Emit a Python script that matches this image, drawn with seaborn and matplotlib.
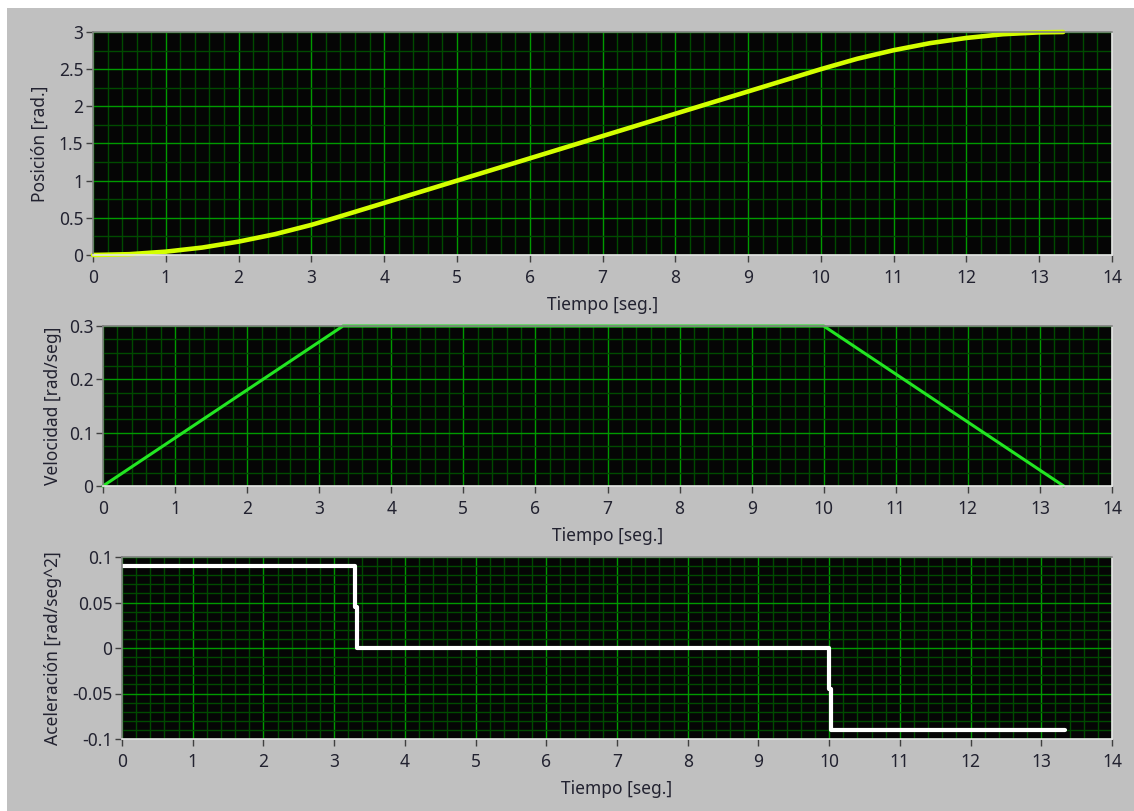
import matplotlib
matplotlib.use("Agg")
import matplotlib.pyplot as plt
from matplotlib.patches import Rectangle
from matplotlib.ticker import MultipleLocator
import seaborn as sns
import pandas as pd

# Position profile
pos_t = [0, 0.5, 1, 1.5, 2, 2.5, 3, 3.33, 4, 5, 6, 7, 8, 9, 10,
         10.5, 11, 11.5, 12, 12.5, 13, 13.33]
pos_val = [0, 0.011, 0.045, 0.10, 0.18, 0.28, 0.405, 0.50, 0.70, 1.00, 1.30,
           1.60, 1.90, 2.20, 2.50, 2.64, 2.755, 2.85, 2.92, 2.97, 2.995, 3.0]

# Velocity (trapezoid corners)
vel_t = [0, 3.33, 10.0, 13.33]
vel_val = [0, 0.3, 0.3, 0]

# Acceleration (step values, held until next time)
acc_t = [0, 3.3, 3.33, 10.0, 10.03, 13.33]
acc_val = [0.09, 0.045, 0, -0.045, -0.09, -0.09]

ylabels = ["Posición [rad.]", "Velocidad [rad/seg]", "Aceleración [rad/seg^2]"]
xlabel = "Tiempo [seg.]"

W, H = 1134, 811
BG = "#c0c0c0"
TXT = "#222230"
FS = 12.5

sns.set_style("dark")
plt.rcParams["font.family"] = ["Noto Sans", "DejaVu Sans"]

fig = plt.figure(figsize=(W / 100, H / 100), dpi=100, facecolor="white")
fig.patches.append(Rectangle((7 / W, 0), 1, 1 - 8 / H, transform=fig.transFigure,
                             facecolor=BG, edgecolor="none", zorder=-10))

# panel boxes in pixels (left, top, right, bottom), y limits, y major/minor step,
# right edge of the y label in pixels
panels = [
    ((93, 32, 1112, 255), (0, 3), 0.5, 0.25, 49),
    ((103, 326, 1112, 486), (0, 0.3), 0.1, 0.025, 62),
    ((122, 557, 1112, 739), (-0.1, 0.1), 0.05, 0.01, 62),
]

axes = []
for box, ylim, ymaj, ymin, lab_x in panels:
    left, top, right, bottom = box
    ax = fig.add_axes([left / W, 1 - bottom / H, (right - left) / W, (bottom - top) / H])
    ax.set_facecolor("#050505")
    axes.append(ax)

pos_df = pd.DataFrame({"t": pos_t, "p": pos_val})
vel_df = pd.DataFrame({"t": vel_t, "v": vel_val})
acc_df = pd.DataFrame({"t": acc_t, "a": acc_val})

sns.lineplot(data=pos_df, x="t", y="p", ax=axes[0], color="#d4ff00", lw=3.3,
             estimator=None, clip_on=False)
sns.lineplot(data=vel_df, x="t", y="v", ax=axes[1], color="#22e622", lw=2.2,
             estimator=None, clip_on=False)
sns.lineplot(data=acc_df, x="t", y="a", ax=axes[2], color="white", lw=3,
             estimator=None, drawstyle="steps-post")

for ax, (box, ylim, ymaj, ymin, lab_x), ylab in zip(axes, panels, ylabels):
    left, top, right, bottom = box
    ax.set_xlim(0, 14)
    ax.set_ylim(*ylim)
    ax.xaxis.set_major_locator(MultipleLocator(1))
    ax.xaxis.set_minor_locator(MultipleLocator(0.2))
    ax.yaxis.set_major_locator(MultipleLocator(ymaj))
    ax.yaxis.set_minor_locator(MultipleLocator(ymin))
    ax.grid(which="minor", color="#004a00", lw=1)
    ax.grid(which="major", color="#009a00", lw=1)
    ax.set_axisbelow(True)
    ax.tick_params(which="major", length=5, width=1, color="#404040",
                   labelcolor=TXT, labelsize=FS, bottom=True, left=True)
    ax.tick_params(axis="x", which="major", pad=5)
    ax.tick_params(axis="y", which="major", pad=2)
    ax.tick_params(which="minor", length=0)
    ax.yaxis.set_major_formatter(plt.FuncFormatter(lambda v, p: f"{v:g}"))
    for s in ("top", "left"):
        ax.spines[s].set_color("#808080")
    for s in ("bottom", "right"):
        ax.spines[s].set_color("#e6e6e6")
    for s in ax.spines.values():
        s.set_linewidth(1.2)
        s.set_visible(True)
    ax.set_xlabel(xlabel, color=TXT, fontsize=FS)
    ax.xaxis.set_label_coords(0.5, -41 / (bottom - top))
    ax.set_ylabel(ylab, color=TXT, fontsize=FS)
    ax.yaxis.set_label_coords((lab_x - left) / (right - left), 0.5)

fig.savefig("out.png", dpi=100, facecolor="white")
